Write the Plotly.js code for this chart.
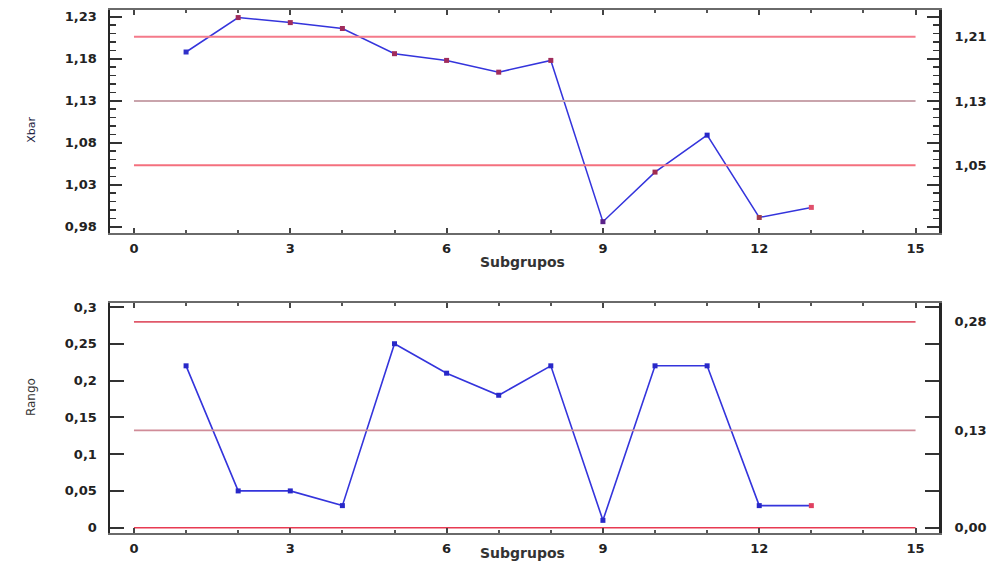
<!DOCTYPE html>
<html>
<head>
<meta charset="utf-8">
<script src="https://cdn.plot.ly/plotly-3.0.1.min.js"></script>
<style>html,body{margin:0;padding:0;background:#fff;}#chart{width:995px;height:571px;}</style>
</head>
<body>
<div id="chart"></div>
<script>
// ---- data ----
const subgroups = [1,2,3,4,5,6,7,8,9,10,11,12,13];
const xbarValues = [1.188,1.229,1.223,1.216,1.186,1.178,1.164,1.178,0.986,1.045,1.089,0.991,1.003];
const rangeValues = [0.22,0.05,0.05,0.03,0.25,0.21,0.18,0.22,0.01,0.22,0.22,0.03,0.03];
const xbarLimits = [1.2063, 1.1297, 1.0531];   // UCL, CL, LCL
const rangeLimits = [0.2797, 0.1323, 0.0];     // UCL, CL, LCL
const limitSpan = [0, 15];
const xTickLabels = ['0','3','6','9','12','15'];
const xTickVals = [0,3,6,9,12,15];

// ---- styles ----
const lineBlue = '#3434dc';
const xbarMarkerColors = ['#3030c8','#a02c5c','#a02c5c','#a02c5c','#a02c5c','#a02c5c','#a02c5c','#a02c5c','#5a2288','#a02c50','#2828c8','#a03c4c','#e0506c'];
const rangeMarkerColors = ['#2828c8','#2828c8','#2828c8','#2828c8','#2828c8','#2828c8','#2828c8','#2828c8','#2828c8','#2828c8','#2828c8','#2828c8','#e04060'];
const limitColorsTop = ['#f47a8a','#c9a4ac','#f4707e'];
const limitColorsBot = ['#e0586a','#d08c98','#e83a52'];

function limitTraces(limits, colors, xa, ya, width) {
  return limits.map((v, i) => ({
    x: limitSpan, y: [v, v], xaxis: xa, yaxis: ya,
    mode: 'lines', line: {color: colors[i], width: width}, hoverinfo: 'skip'
  }));
}

const traces = [
  ...limitTraces(xbarLimits, limitColorsTop, 'x', 'y3', 2),
  ...limitTraces(rangeLimits, limitColorsBot, 'x2', 'y4', 1.6),
  {x: subgroups, y: xbarValues, xaxis: 'x', yaxis: 'y', mode: 'lines+markers',
   line: {color: lineBlue, width: 1.5},
   marker: {symbol: 'square', size: 5, color: xbarMarkerColors}},
  {x: subgroups, y: rangeValues, xaxis: 'x2', yaxis: 'y2', mode: 'lines+markers',
   line: {color: lineBlue, width: 1.6},
   marker: {symbol: 'square', size: 5, color: rangeMarkerColors}}
];

const tickFont = {family: 'DejaVu Sans', size: 13, color: '#222', weight: 'bold'};
const xRange = [-0.46, 15.45];
const topRange = [0.9725, 1.238];
const botRange = [-0.0072, 0.3054];

function xAxis(anchor) {
  return {
    anchor: anchor, domain: [0, 1], range: xRange,
    tickmode: 'array', tickvals: xTickVals, ticktext: xTickLabels,
    ticks: 'inside', ticklen: 5, tickwidth: 2, tickcolor: '#444',
    minor: {dtick: 1, tick0: 0, ticks: 'inside', ticklen: 3, tickwidth: 2, tickcolor: '#555', showgrid: false},
    showline: true, linecolor: '#6a6a6a', linewidth: 2, mirror: 'ticks',
    showgrid: false, zeroline: false, tickfont: tickFont, ticklabelstandoff: 2
  };
}

const layout = {
  width: 995, height: 571,
  margin: {l: 110, r: 56, t: 10, b: 38},
  paper_bgcolor: '#fff', plot_bgcolor: '#fff',
  showlegend: false, separators: ',.',
  font: {family: 'DejaVu Sans', color: '#222'},
  xaxis: xAxis('y'),
  xaxis2: xAxis('y2'),
  yaxis: {
    anchor: 'x', domain: [0.5736, 1], range: topRange,
    tick0: 0.98, dtick: 0.05, ticks: 'inside', ticklen: 12, tickwidth: 2, tickcolor: '#333',
    minor: {dtick: 0.01, tick0: 0.98, ticks: 'inside', ticklen: 6, tickwidth: 1.5, tickcolor: '#333', showgrid: false},
    showline: true, linecolor: '#262626', linewidth: 2.5, mirror: 'ticks',
    showgrid: false, zeroline: false, tickfont: tickFont, ticklabelstandoff: 8
  },
  yaxis2: {
    anchor: 'x2', domain: [0, 0.4398], range: botRange,
    tick0: 0, dtick: 0.05, ticks: 'inside', ticklen: 14, tickwidth: 2, tickcolor: '#333',
    showline: true, linecolor: '#262626', linewidth: 2.5, mirror: 'ticks',
    showgrid: false, zeroline: false, tickfont: tickFont, ticklabelstandoff: 8
  },
  yaxis3: {
    overlaying: 'y', side: 'right', anchor: 'x', range: topRange,
    tickmode: 'array', tickvals: xbarLimits, tickformat: '.2f',
    ticks: 'outside', ticklen: 12, tickcolor: 'rgba(0,0,0,0)',
    showline: false, showgrid: false, zeroline: false, tickfont: tickFont
  },
  yaxis4: {
    overlaying: 'y2', side: 'right', anchor: 'x2', range: botRange,
    tickmode: 'array', tickvals: rangeLimits, tickformat: '.2f',
    ticks: 'outside', ticklen: 12, tickcolor: 'rgba(0,0,0,0)',
    showline: false, showgrid: false, zeroline: false, tickfont: tickFont
  },
  annotations: [
    {text: 'Xbar', xref: 'paper', yref: 'paper', x: -0.106, y: 0.799, textangle: -90,
     showarrow: false, font: {family: 'DejaVu Sans', size: 11, color: '#1a1a40'}},
    {text: 'Rango', xref: 'paper', yref: 'paper', x: -0.106, y: 0.22, textangle: -90,
     showarrow: false, font: {family: 'DejaVu Sans', size: 12, color: '#333'}},
    {text: 'Subgrupos', xref: 'paper', yref: 'paper', x: 0.498, y: 0.518,
     showarrow: false, font: {family: 'DejaVu Sans', size: 14, color: '#333', weight: 'bold'}},
    {text: 'Subgrupos', xref: 'paper', yref: 'paper', x: 0.498, y: -0.0574,
     showarrow: false, font: {family: 'DejaVu Sans', size: 14, color: '#333', weight: 'bold'}}
  ]
};

Plotly.newPlot('chart', traces, layout, {displayModeBar: false, staticPlot: true});
</script>
</body>
</html>
